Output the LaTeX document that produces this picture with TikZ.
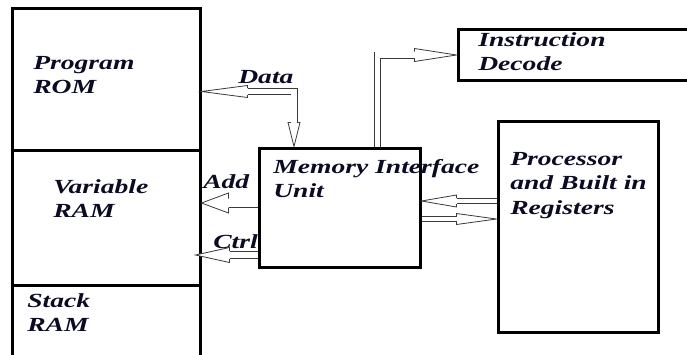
\documentclass[tikz,border=0pt]{standalone}
\usepackage{fontspec}
\setmainfont{Liberation Serif}
\usetikzlibrary{calc}
\definecolor{ink}{HTML}{0B0B24}
\definecolor{arrowgray}{HTML}{3A3A3A}
\tikzset{
  box/.style={draw=black, line width=3pt, fill=white, inner sep=0pt},
  % multi-line labels: the base anchor sits on the last line
  lbl/.style={font=\fontsize{20}{24.5}\selectfont\bfseries\itshape, text=ink,
    anchor=base west, inner sep=0pt, align=left, xscale=1.38},
  shaft/.style={draw=arrowgray, line width=0.8pt, double=white, line join=miter},
  headline/.style={draw=arrowgray, line width=0.8pt, fill=white, line join=miter},
}
% hollow arrow head: #1 point behind the tip (direction), #2 tip,
% #3 half shaft width, #4 half head width, #5 head length, #6 name of head base
\newcommand\hollowhead[6]{%
  \coordinate (#6) at ($(#2)!#5!(#1)$);
  \draw[headline] ($(#6)!#3!90:(#2)$) -- ($(#6)!#4!90:(#2)$) -- (#2)
    -- ($(#6)!#4!-90:(#2)$) -- ($(#6)!#3!-90:(#2)$);
}
\begin{document}
\begin{tikzpicture}[x=1pt, y=-1pt]
\useasboundingbox (0,0) rectangle (687,354);
\clip (0,0) rectangle (687,354);
\fill[white] (0,0) rectangle (687,354);

% memory column
\node[box, minimum width=188pt, minimum height=142pt] (rom)  at (106,79) {};
\node[box, minimum width=188pt, minimum height=135pt] (vram) at (106,217.5) {};
\node[box, minimum width=188pt, minimum height=95pt]  (sram) at (106,332.5) {};

% functional units
\node[box, minimum width=161pt, minimum height=119pt] (miu)  at (339.5,207.5) {};
\node[box, minimum width=160pt, minimum height=211pt] (proc) at (578,226.5) {};
\node[box, minimum width=242pt, minimum height=51pt]  (idec) at (579,54.5) {};

% labels (positions give the baseline of the last line)
\node[lbl] (tRom)  at (33,93.5)   {Program\\ROM};
\node[lbl] (tVram) at (53,217.5)  {Variable\\RAM};
\node[lbl] (tSram) at (27,331.5)  {Stack\\RAM};
\node[lbl] (tMiu)  at (273,197.5) {Memory Interface\\Unit};
\node[lbl] (tProc) at (510,214)   {Processor\\and Built in\\Registers};
\node[lbl] (tIdec) at (478,70.5)  {Instruction\\Decode};
\node[lbl] (tData) at (238,83)    {Data};
\node[lbl] (tAdd)  at (203,188)   {Add};
\node[lbl] (tCtrl) at (213,248)   {Ctrl};

% Data bus: between ROM and the interface unit, heads at both ends
\coordinate (dCorner) at (294,91.5);
\coordinate (dRomTip) at (rom.east |- dCorner);
\coordinate (dMiuTip) at (dCorner |- miu.north);
\hollowhead{dCorner}{dRomTip}{3.5pt}{6pt}{46pt}{dRomBase}
\hollowhead{dCorner}{dMiuTip}{3pt}{6pt}{24pt}{dMiuBase}
\draw[shaft, double distance=5.4pt] (dRomBase) -- (dCorner) -- (dMiuBase);

% Address bus to the variable RAM
\coordinate (aTail) at ($(miu.west)+(0,-4.5)$);
\coordinate (aTip)  at (vram.east |- aTail);
\hollowhead{aTail}{aTip}{4.5pt}{10pt}{27pt}{aBase}
\draw[shaft, double distance=7.4pt] (aTail) -- (aBase);

% Control lines
\coordinate (cTail) at ($(miu.west)+(0,47.5)$);
\coordinate (cTip)  at ($(vram.east |- cTail)+(-6,0)$);
\hollowhead{cTail}{cTip}{4pt}{7.5pt}{34pt}{cBase}
\draw[shaft, double distance=6.4pt] (cTail) -- (cBase);

% Processor <-> interface unit
\coordinate (pTail) at ($(proc.west)+(0,-25.5)$);
\coordinate (pTip)  at (miu.east |- pTail);
\hollowhead{pTail}{pTip}{3pt}{6pt}{35pt}{pBase}
\draw[shaft, double distance=4.4pt] (pTail) -- (pBase);

\coordinate (mTail) at ($(miu.east)+(0,11.5)$);
\coordinate (mTip)  at (proc.west |- mTail);
\hollowhead{mTail}{mTip}{3pt}{5.5pt}{40pt}{mBase}
\draw[shaft, double distance=4.4pt] (mTail) -- (mBase);

% Interface unit -> instruction decode
\coordinate (iCorner) at (377.5,55);
\coordinate (iTail) at (iCorner |- miu.north);
\coordinate (iTip)  at (idec.west |- iCorner);
\hollowhead{iCorner}{iTip}{3.5pt}{6.5pt}{42pt}{iBase}
\draw[shaft, double distance=5.4pt] (iTail) -- (iCorner) -- (iBase);
\end{tikzpicture}
\end{document}
